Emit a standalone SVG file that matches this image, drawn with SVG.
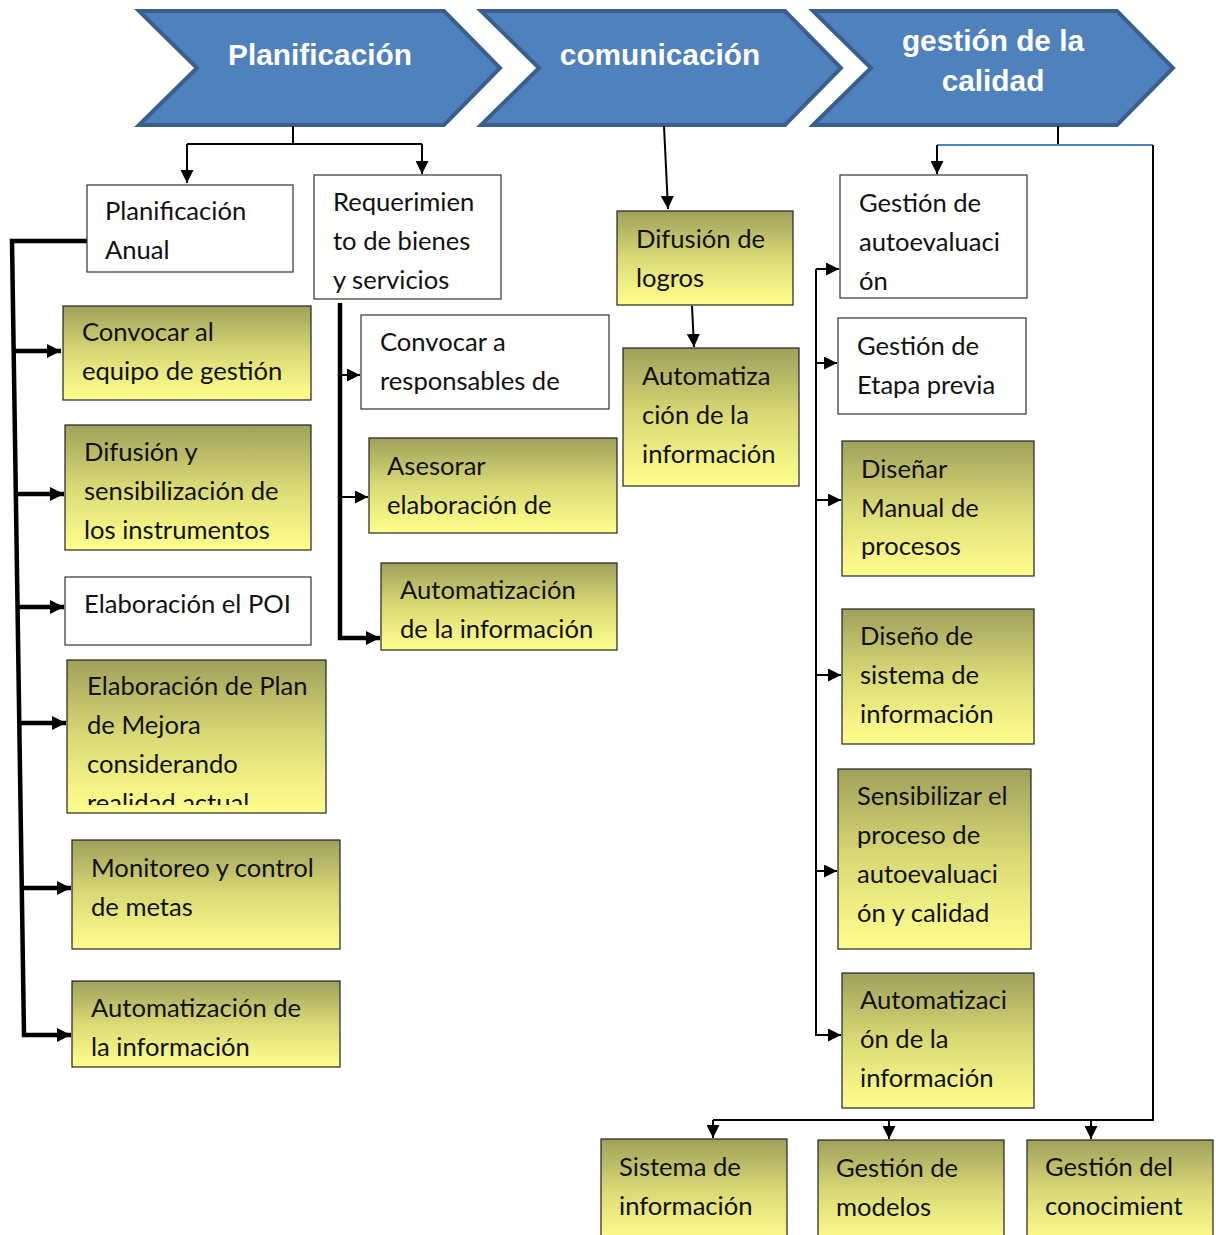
<svg xmlns="http://www.w3.org/2000/svg" width="1216" height="1235" viewBox="0 0 1216 1235">
<style>
.chev{fill:#4F81BD;stroke:#3A5F8F;stroke-width:4;stroke-linejoin:miter}
.ct{font-family:"Liberation Sans",Arial,sans-serif;font-weight:bold;font-size:29.8px;fill:#fff;text-anchor:middle}
.bw{fill:#fff;stroke:#333;stroke-width:1.2}
.by{fill:url(#yg);stroke:#222;stroke-width:1.2}
.t{font-family:Lato,"Open Sans",sans-serif;font-size:25.6px;fill:#111}
.thick{fill:none;stroke:#000;stroke-width:4.5}
.thin{fill:none;stroke:#000;stroke-width:2}
.blue{fill:none;stroke:#4F81BD;stroke-width:2}
</style>
<defs>
<linearGradient id="yg" x1="0" y1="0" x2="0" y2="1">
<stop offset="0" stop-color="#A0A05C"/>
<stop offset="0.5" stop-color="#DADA76"/>
<stop offset="1" stop-color="#FFFF8E"/>
</linearGradient>
<marker id="ab" viewBox="0 0 10 10" refX="10" refY="5" markerWidth="14" markerHeight="16" markerUnits="userSpaceOnUse" orient="auto">
<path d="M0,0 L10,5 L0,10 z" fill="#000"/>
</marker>
<marker id="as" viewBox="0 0 10 10" refX="10" refY="5" markerWidth="13" markerHeight="13" markerUnits="userSpaceOnUse" orient="auto">
<path d="M0,0 L10,5 L0,10 z" fill="#000"/>
</marker>
<clipPath id="c1"><rect x="314" y="175" width="187" height="118"/></clipPath>
<clipPath id="c2"><rect x="67" y="660" width="259" height="145"/></clipPath>
</defs>

<g id="chevrons">
<g id="ch-plan"><polygon class="chev" points="139,11 444,11 500,68 444,125 139,125 197,68"/><text class="ct" x="320" y="65">Planificación</text></g>
<g id="ch-com"><polygon class="chev" points="481,11 785,11 841,68 785,125 481,125 539,68"/><text class="ct" x="660" y="65">comunicación</text></g>
<g id="ch-cal"><polygon class="chev" points="813,11 1117,11 1173,68 1117,125 813,125 871,68"/><text class="ct" x="993" y="51">gestión de la</text><text class="ct" x="993" y="91">calidad</text></g>
</g>

<g id="connectors">
<path class="thin" d="M293,126 V144 M187,144 H422"/>
<path class="thin" d="M187,144 V183" marker-end="url(#as)"/>
<path class="thin" d="M422,144 V174" marker-end="url(#as)"/>
<path class="thin" d="M664,126 L668,209" marker-end="url(#as)"/>
<path class="thin" d="M692,306 L694,347" marker-end="url(#as)"/>
<path class="thin" d="M1058,126 V145"/>
<path class="blue" d="M937,145 H1153"/>
<path class="thin" d="M937,145 V174" marker-end="url(#as)"/>
<path class="thin" d="M1153,145 V1120 H713"/>
<path class="thin" d="M713,1120 V1138" marker-end="url(#as)"/>
<path class="thin" d="M889,1120 V1139" marker-end="url(#as)"/>
<path class="thin" d="M1091,1120 V1139" marker-end="url(#as)"/>
<path class="thick" d="M87,241 H12 L24,1035 H71" marker-end="url(#ab)"/>
<path class="thick" d="M14,351 H61" marker-end="url(#ab)"/>
<path class="thick" d="M16,494 H64" marker-end="url(#ab)"/>
<path class="thick" d="M17,607 H64" marker-end="url(#ab)"/>
<path class="thick" d="M19,723 H66" marker-end="url(#ab)"/>
<path class="thick" d="M22,888 H71" marker-end="url(#ab)"/>
<path class="thick" d="M340,303 V638 H380" marker-end="url(#ab)"/>
<path class="thin" d="M342,375 H360" marker-end="url(#as)"/>
<path class="thin" d="M342,497 H368" marker-end="url(#as)"/>
<path class="thin" d="M816,269 V1035 H841" marker-end="url(#as)"/>
<path class="thin" d="M816,269 H839" marker-end="url(#as)"/>
<path class="thin" d="M816,363 H837" marker-end="url(#as)"/>
<path class="thin" d="M816,500 H841" marker-end="url(#as)"/>
<path class="thin" d="M816,675 H841" marker-end="url(#as)"/>
<path class="thin" d="M816,871 H837" marker-end="url(#as)"/>
</g>

<g id="n-plan-anual"><rect class="bw" x="87" y="185" width="206" height="87"/><text class="t" x="105" y="220">Planificación</text><text class="t" x="105" y="259">Anual</text></g>
<g id="n-req"><rect class="bw" x="314" y="175" width="187" height="124"/><g clip-path="url(#c1)"><text class="t" x="333" y="211">Requerimien</text><text class="t" x="333" y="250">to de bienes</text><text class="t" x="333" y="289">y servicios</text></g></g>
<g id="n-conv-resp"><rect class="bw" x="361" y="315" width="248" height="94"/><text class="t" x="380" y="351">Convocar a</text><text class="t" x="380" y="390">responsables de</text></g>
<g id="n-asesorar"><rect class="by" x="369" y="438" width="248" height="95"/><text class="t" x="387" y="475">Asesorar</text><text class="t" x="387" y="514">elaboración de</text></g>
<g id="n-auto-mid"><rect class="by" x="381" y="563" width="236" height="87"/><text class="t" x="400" y="599">Automatización</text><text class="t" x="400" y="638">de la información</text></g>
<g id="n-convocar"><rect class="by" x="63" y="306" width="248" height="94"/><text class="t" x="82" y="341">Convocar al</text><text class="t" x="82" y="380">equipo de gestión</text></g>
<g id="n-difusion"><rect class="by" x="65" y="425" width="246" height="125"/><text class="t" x="84" y="461">Difusión y</text><text class="t" x="84" y="500">sensibilización de</text><text class="t" x="84" y="539">los instrumentos</text></g>
<g id="n-poi"><rect class="bw" x="65" y="577" width="246" height="68"/><text class="t" x="84" y="613">Elaboración el POI</text></g>
<g id="n-plan-mejora"><rect class="by" x="67" y="660" width="259" height="153"/><g clip-path="url(#c2)"><text class="t" x="87" y="695">Elaboración de Plan</text><text class="t" x="87" y="734">de Mejora</text><text class="t" x="87" y="773">considerando</text><text class="t" x="87" y="812">realidad actual</text></g></g>
<g id="n-monitoreo"><rect class="by" x="72" y="840" width="268" height="109"/><text class="t" x="91" y="877">Monitoreo y control</text><text class="t" x="91" y="916">de metas</text></g>
<g id="n-auto-left"><rect class="by" x="72" y="981" width="268" height="86"/><text class="t" x="91" y="1017">Automatización de</text><text class="t" x="91" y="1056">la información</text></g>
<g id="n-difusion-logros"><rect class="by" x="617" y="211" width="176" height="94"/><text class="t" x="636" y="248">Difusión de</text><text class="t" x="636" y="287">logros</text></g>
<g id="n-auto-com"><rect class="by" x="623" y="348" width="176" height="138"/><text class="t" x="642" y="385">Automatiza</text><text class="t" x="642" y="424">ción de la</text><text class="t" x="642" y="463">información</text></g>
<g id="n-gest-auto"><rect class="bw" x="840" y="175" width="187" height="123"/><text class="t" x="859" y="212">Gestión de</text><text class="t" x="859" y="251">autoevaluaci</text><text class="t" x="859" y="290">ón</text></g>
<g id="n-etapa"><rect class="bw" x="838" y="318" width="188" height="96"/><text class="t" x="857" y="355">Gestión de</text><text class="t" x="857" y="394">Etapa previa</text></g>
<g id="n-disenar"><rect class="by" x="842" y="441" width="192" height="135"/><text class="t" x="861" y="478">Diseñar</text><text class="t" x="861" y="517">Manual de</text><text class="t" x="861" y="555">procesos</text></g>
<g id="n-diseno"><rect class="by" x="842" y="609" width="192" height="135"/><text class="t" x="860" y="645">Diseño de</text><text class="t" x="860" y="684">sistema de</text><text class="t" x="860" y="723">información</text></g>
<g id="n-sensibilizar"><rect class="by" x="838" y="769" width="193" height="180"/><text class="t" x="857" y="805">Sensibilizar el</text><text class="t" x="857" y="844">proceso de</text><text class="t" x="857" y="883">autoevaluaci</text><text class="t" x="857" y="922">ón y calidad</text></g>
<g id="n-auto-cal"><rect class="by" x="842" y="973" width="192" height="135"/><text class="t" x="860" y="1009">Automatizaci</text><text class="t" x="860" y="1048">ón de la</text><text class="t" x="860" y="1087">información</text></g>
<g id="n-sistema"><rect class="by" x="601" y="1139" width="186" height="104"/><text class="t" x="619" y="1176">Sistema de</text><text class="t" x="619" y="1215">información</text></g>
<g id="n-modelos"><rect class="by" x="818" y="1140" width="186" height="104"/><text class="t" x="836" y="1177">Gestión de</text><text class="t" x="836" y="1216">modelos</text></g>
<g id="n-conocimiento"><rect class="by" x="1027" y="1140" width="186" height="104"/><text class="t" x="1045" y="1176">Gestión del</text><text class="t" x="1045" y="1215">conocimient</text></g>
</svg>
